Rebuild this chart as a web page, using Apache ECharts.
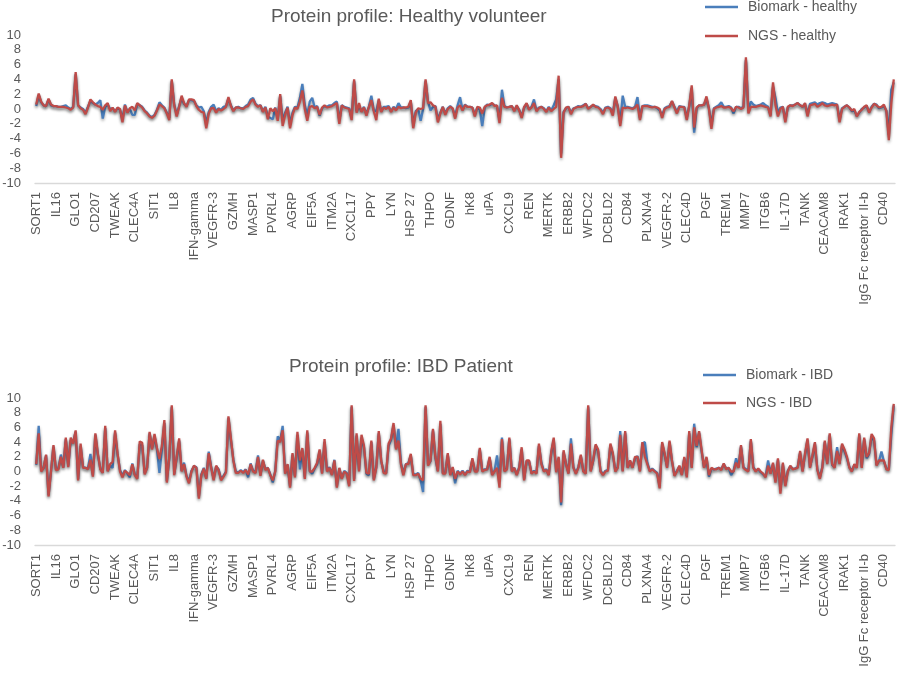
<!DOCTYPE html>
<html>
<head>
<meta charset="utf-8">
<script src="https://cdn.jsdelivr.net/npm/echarts@6/dist/echarts.min.js"></script>
<style>
html,body{margin:0;padding:0;background:#fff;}
#chart{width:898px;height:674px;}
</style>
</head>
<body>
<div id="chart"></div>
<script>
// Tick labels shown on the category axis (every 8th protein)
const tickLabels = ['SORT1','IL16','GLO1','CD207','TWEAK','CLEC4A','SIT1','IL8','IFN-gamma','VEGFR-3','GZMH','MASP1','PVRL4','AGRP','EIF5A','ITM2A','CXCL17','PPY','LYN','HSP 27','THPO','GDNF','hK8','uPA','CXCL9','REN','MERTK','ERBB2','WFDC2','DCBLD2','CD84','PLXNA4','VEGFR-2','CLEC4D','PGF','TREM1','MMP7','ITGB6','IL-17D','TANK','CEACAM8','IRAK1','IgG Fc receptor II-b','CD40'];
const labelStep = 8;

const yTicks = [-10, -8, -6, -4, -2, 0, 2, 4, 6, 8, 10];

// Healthy volunteer
const biomarkHealthy = [
0.4,1.9,0.9,0.5,0.4,1.3,0.5,0.4,
0.4,0.3,0.3,0.4,0.5,0.2,0.0,0.3,
4.7,0.5,0.2,0.0,-0.5,0.3,1.1,0.8,
0.6,0.8,1.2,-1.3,0.3,0.6,0.0,0.1,
-0.3,0.1,-0.1,-1.4,0.6,-0.4,0.0,-0.8,
-0.8,0.7,0.5,0.3,-0.2,-0.5,-0.9,-1.1,
-0.8,-0.1,0.9,0.5,0.2,-0.5,-1.2,3.8,
0.6,-0.8,0.4,1.5,0.7,0.4,1.2,1.2,
1.1,0.5,0.2,0.3,-0.3,-1.9,-0.4,0.3,
0.6,-0.3,0.1,-0.1,0.3,0.4,1.4,0.5,
-0.2,0.2,0.3,0.1,0.1,0.4,0.6,1.3,
1.5,0.7,0.4,0.5,-0.3,0.3,-1.0,-1.2,
-1.4,0.2,-1.3,1.8,-1.6,-0.5,0.3,-2.0,
-0.5,0.3,0.2,1.5,3.4,0.5,-0.8,1.0,
1.5,0.2,0.4,-0.9,0.1,0.4,0.3,0.5,
0.5,0.8,1.0,-1.6,0.5,0.3,0.2,0.1,
-1.2,3.8,-0.3,0.4,-0.3,0.3,-0.7,0.3,
1.8,-0.2,-0.3,1.2,-0.3,0.3,0.3,0.4,
-0.3,0.3,0.0,0.8,0.2,0.2,0.1,0.2,
1.0,-2.2,-0.3,0.0,-1.6,0.0,3.8,1.0,
-0.2,0.3,0.4,-1.4,-0.5,0.3,-0.6,0.1,
0.4,0.0,-1.0,0.5,1.6,-0.1,0.6,0.3,
0.3,0.2,-0.8,0.2,-0.1,-2.3,0.2,0.6,
0.5,0.7,0.5,0.4,-1.5,2.6,0.4,0.2,
0.3,0.4,-0.2,0.4,-0.1,-1.0,0.2,0.7,
0.0,0.3,1.3,-0.2,0.2,0.3,0.1,-0.3,
0.3,-0.2,0.5,1.3,4.0,-6.0,-0.4,0.1,
0.3,-0.5,0.1,0.2,0.4,0.3,0.5,0.7,
0.1,0.3,0.5,0.4,0.3,0.0,-0.5,0.2,
0.3,0.1,-0.6,1.5,0.4,-1.8,1.8,0.3,
0.3,0.2,0.1,0.3,1.6,-1.2,0.4,0.5,
0.5,0.4,0.3,0.3,0.1,-0.2,-0.9,0.1,
0.3,0.4,1.0,0.3,-0.4,0.4,0.3,0.3,
-1.2,0.4,2.8,-3.2,0.1,0.5,0.5,0.6,
1.4,0.1,-2.2,0.1,0.3,0.5,0.9,0.3,
0.3,0.4,0.2,-0.6,0.3,0.3,0.1,0.3,
6.6,-0.3,1.0,0.6,0.4,0.5,0.6,0.8,
0.5,0.3,-0.8,3.0,1.5,-0.6,0.2,0.3,
-1.5,0.2,0.5,0.5,0.6,0.8,0.5,0.3,
0.7,-0.7,0.7,0.8,0.9,0.6,0.8,0.9,
0.8,0.6,0.7,0.8,0.7,0.6,-1.5,0.1,
0.3,0.5,0.2,-0.3,-0.2,-0.9,-0.5,0.0,
0.2,0.4,-0.4,0.3,0.7,0.6,0.1,0.2,
0.4,-0.2,-3.5,2.6,3.6
];
const ngsHealthy = [
0.6,2.1,1.0,0.5,0.4,1.4,0.6,0.4,
0.4,0.3,0.3,0.3,0.2,0.1,-0.1,0.2,
5.0,0.5,0.1,-0.1,-0.7,0.2,1.3,0.9,
0.6,0.4,0.3,-0.1,0.5,0.8,-0.3,0.2,
-0.4,0.2,0.0,-1.8,0.5,-0.5,0.1,0.3,
-0.2,0.8,0.5,0.2,-0.3,-0.6,-1.0,-1.2,
-0.9,-0.2,0.6,0.4,0.1,-0.6,-1.5,4.0,
0.5,-1.0,0.3,1.8,0.8,0.3,1.3,1.3,
1.2,0.4,-0.1,-0.4,-0.5,-2.6,-0.6,0.1,
0.1,-0.5,0.0,-0.2,0.0,0.3,1.6,0.4,
-0.3,0.2,0.2,0.1,0.0,0.3,0.4,1.0,
1.3,0.6,0.3,0.5,-0.4,0.2,-1.4,0.1,
-0.3,0.1,-1.6,2.0,-2.3,-0.8,0.2,-2.6,
-0.8,0.2,0.0,1.0,2.5,0.0,-1.6,0.3,
0.4,0.1,0.3,-0.8,0.2,0.5,0.2,0.3,
0.4,0.6,0.8,-2.0,0.5,0.2,0.1,0.0,
-1.5,4.0,-0.5,0.8,-0.4,0.2,-0.9,0.3,
1.2,-0.3,-1.5,1.4,-0.4,0.2,0.0,0.3,
-0.4,0.2,-0.2,0.3,0.1,0.2,0.2,0.3,
1.2,-2.6,-0.5,0.1,0.0,0.1,4.0,0.8,
0.9,0.5,0.3,-1.8,-0.6,0.3,-0.8,0.0,
0.3,0.1,-1.3,0.2,0.5,-0.2,0.5,0.3,
0.3,0.2,-1.0,0.3,0.2,-0.6,0.3,0.5,
0.6,0.8,0.4,0.5,-1.9,1.5,0.3,0.2,
0.3,0.4,-0.3,0.5,-0.2,-1.2,0.3,0.8,
-0.1,0.2,0.8,-0.3,0.1,0.3,0.0,-0.4,
0.2,-0.3,0.0,0.3,4.5,-6.6,-0.5,0.2,
0.3,-0.7,0.0,0.2,0.3,0.3,0.4,0.7,
0.0,0.3,0.6,0.3,0.2,-0.1,-0.7,0.1,
0.2,0.0,-0.9,1.7,0.3,-2.3,0.2,0.1,
0.2,0.1,0.0,0.2,0.6,-1.5,0.4,0.4,
0.4,0.3,0.2,0.3,0.2,0.0,-1.2,0.0,
0.2,0.3,1.1,0.2,-0.6,0.3,0.3,0.2,
-1.5,0.5,3.2,-2.5,0.2,0.5,0.5,0.6,
1.7,0.0,-2.7,0.0,0.2,0.3,0.4,0.2,
0.2,0.3,0.1,-0.3,0.3,0.2,0.0,0.2,
7.0,-0.6,0.3,0.3,0.3,0.4,0.5,0.4,
0.3,0.2,-1.0,3.6,0.5,-1.0,0.0,0.3,
-1.8,0.3,0.5,0.4,0.6,0.8,0.5,0.3,
0.8,-1.0,0.5,0.6,0.7,0.3,0.5,0.8,
0.5,0.4,0.5,0.6,0.5,0.6,-1.8,0.0,
0.3,0.5,0.2,-0.2,0.0,-1.0,-0.4,-0.1,
0.3,0.5,-0.5,0.2,0.7,0.5,0.2,0.3,
0.6,-0.3,-4.2,0.8,4.0
];

// IBD patient
const biomarkIBD = [
0.9,6.2,0.1,0.5,2.2,-3.2,0.1,3.4,
0.3,0.4,2.3,0.6,4.4,0.8,4.3,4.0,
5.4,-1.0,3.5,0.6,0.5,0.4,2.4,-0.5,
5.0,2.3,0.4,-0.1,5.9,0.1,0.8,0.5,
5.3,2.3,0.2,-0.6,0.2,-0.3,-0.8,1.1,
-0.4,-0.9,3.7,3.6,-0.2,0.5,5.2,3.2,
4.8,3.0,-0.2,3.0,6.6,-1.3,1.8,8.8,
-0.3,1.8,4.2,0.1,1.2,-0.6,-1.4,0.1,
0.7,0.6,-3.4,-0.4,0.5,-0.9,2.7,0.6,
-1.0,0.7,0.3,-1.0,-0.6,0.0,7.3,4.3,
1.6,0.0,-0.1,0.2,-0.1,0.3,-0.8,1.1,
0.1,-0.1,2.2,-0.4,1.5,0.3,0.5,-0.4,
-1.5,0.1,4.8,4.2,6.2,-0.2,0.9,-2.0,
2.3,-0.6,5.0,0.3,3.0,-0.8,5.3,0.1,
-0.3,0.4,1.0,2.8,-0.2,4.0,0.1,0.6,
-0.4,1.6,-2.0,0.4,-0.9,0.1,-0.2,-1.8,
8.8,-1.0,4.9,0.2,4.6,3.3,-0.3,-0.5,
4.0,-1.0,0.6,5.2,1.4,0.0,-0.2,3.5,
4.3,6.3,3.2,5.8,1.2,-0.3,1.0,1.1,
2.2,-0.4,-0.4,-0.2,-1.2,-2.8,8.8,1.0,
1.4,5.6,1.8,0.1,6.5,-0.2,-0.2,2.3,
-0.4,0.5,-1.6,0.1,-0.3,0.1,-0.4,0.1,
0.0,1.6,0.1,0.1,3.0,0.1,0.3,0.3,
1.8,-0.4,0.1,2.2,-1.0,4.6,0.1,0.4,
4.4,0.1,0.5,-0.4,0.6,3.0,-1.0,1.4,
1.4,-0.2,0.1,-0.2,3.5,1.2,0.1,0.3,
-0.4,2.5,4.3,0.0,1.8,-4.6,2.6,1.1,
-0.2,4.5,0.6,-0.2,0.6,2.1,0.1,-0.2,
8.8,0.1,1.4,3.5,2.8,0.1,-0.4,0.1,
0.2,3.6,2.3,0.1,0.6,5.5,0.1,5.3,
0.6,1.4,0.6,1.8,2.1,0.1,3.8,4.0,
1.2,0.1,0.4,0.1,-0.2,-2.0,3.8,2.3,
0.6,4.0,1.4,-0.5,0.1,0.7,-0.4,1.8,
-0.6,5.2,0.6,6.5,3.3,5.3,2.8,0.6,
1.8,-0.7,0.4,0.3,0.4,0.5,0.3,1.0,
0.4,0.5,-0.5,0.1,1.8,0.6,3.4,0.6,
0.3,0.1,4.2,0.6,0.1,0.3,-0.1,-0.4,
-0.7,1.5,-0.2,1.0,-1.3,1.6,-2.6,1.0,
-1.8,0.1,0.7,0.4,0.4,0.6,2.6,0.1,
2.3,4.3,0.6,2.0,3.8,0.3,-0.8,0.6,
4.0,1.1,5.0,0.9,0.6,3.3,1.1,3.6,
2.8,1.8,0.6,0.1,0.9,0.6,5.0,0.6,
4.4,1.8,2.4,4.8,4.2,0.9,1.4,2.7,
1.4,0.4,0.3,5.0,9.0
];
const ngsIBD = [
1.0,5.2,0.0,0.5,2.3,-3.4,0.0,3.6,
0.2,0.3,2.0,0.5,4.6,0.6,4.6,3.8,
5.6,-1.2,3.8,0.5,0.5,0.3,1.6,-0.7,
5.2,2.5,0.3,-0.2,6.2,0.0,1.0,1.3,
5.6,2.5,0.0,-0.8,0.1,-0.2,-0.5,1.0,
-0.5,-1.0,4.1,3.9,-0.4,0.5,5.4,3.0,
5.1,3.2,1.7,3.5,7.0,-1.5,2.0,9.0,
-0.5,2.0,4.5,0.0,1.0,-0.7,-1.6,0.0,
0.8,0.5,-3.7,-0.5,0.4,-1.0,2.5,0.5,
-1.2,0.8,0.2,-1.2,-0.7,-0.1,7.5,4.5,
1.5,-0.2,-0.2,0.1,-0.2,0.2,-0.4,1.0,
0.0,-0.2,2.0,-0.6,1.6,0.2,0.5,-0.5,
-1.2,0.0,4.2,4.0,5.6,-0.3,1.0,-2.2,
2.5,-0.8,5.4,1.5,3.2,-1.0,5.6,0.0,
0.0,0.5,1.2,3.0,-0.3,4.4,0.0,0.5,
-0.5,1.5,-2.2,0.5,-1.0,0.0,-0.3,-2.0,
9.0,-1.3,5.2,0.0,5.0,3.5,-0.2,-0.3,
4.2,-1.2,0.5,5.5,1.5,-0.2,-0.3,3.8,
4.5,6.6,3.0,4.2,1.0,-0.5,1.0,1.0,
2.4,-0.5,-0.5,-0.3,-1.0,-1.2,9.0,0.8,
1.5,5.8,2.0,0.0,6.9,-0.3,-0.3,2.5,
-0.5,0.6,-1.0,0.0,-0.4,0.0,-0.5,0.0,
-0.1,1.8,0.0,0.0,3.2,0.0,0.2,0.3,
2.0,-0.5,0.0,0.5,-2.2,4.4,0.0,0.3,
4.6,0.0,0.5,-0.5,0.5,3.3,-1.2,1.5,
1.5,-0.3,0.0,-0.3,3.8,1.0,0.0,0.2,
-0.5,2.7,4.6,-0.1,2.0,-4.2,2.9,1.0,
-0.3,3.8,0.5,-0.3,0.5,2.3,0.0,-0.3,
9.0,0.0,1.5,3.7,3.0,0.0,-0.5,0.0,
0.1,3.8,2.5,0.0,0.5,5.0,0.0,5.5,
0.5,1.5,0.5,2.0,2.0,0.0,4.0,2.0,
1.0,0.0,0.3,0.0,-0.3,-2.3,4.0,2.5,
0.5,4.2,1.5,-0.6,0.0,0.8,-0.5,2.0,
-0.8,5.5,0.5,6.0,3.5,5.5,3.0,0.5,
2.0,-0.5,0.5,0.3,0.3,0.5,0.2,1.1,
0.3,0.5,0.0,0.0,1.2,0.5,3.6,0.5,
0.2,0.0,4.4,0.5,0.0,0.4,0.0,-0.3,
-0.8,0.8,-0.3,1.2,-1.5,1.8,-3.0,1.2,
-2.0,0.0,0.8,0.3,0.4,0.5,2.8,0.0,
2.5,4.5,0.5,2.2,4.0,0.2,-1.0,0.5,
4.2,1.0,5.2,1.0,0.5,2.8,1.0,3.8,
3.0,2.0,0.5,0.0,1.0,0.5,5.2,0.5,
4.6,2.0,2.5,5.1,4.5,0.8,1.5,1.5,
1.5,0.3,0.2,6.0,9.2
];

// category axis: one entry per protein; every 8th carries a visible name
const categories = ngsHealthy.map((v, i) => (i % labelStep === 0 && tickLabels[i / labelStep]) ? tickLabels[i / labelStep] : ('p' + i));

const FONT = "'Liberation Sans', Arial, sans-serif";
const GREY = '#595959';
const BLUE = '#4a7ebb';
const RED = '#be4b48';
const LEGEND_LINE = 'path://M0,0L33,0L33,2.5L0,2.5Z';

function xAxisFor(gi) {
  return {
    type: 'category', gridIndex: gi, data: categories, boundaryGap: true,
    axisLine: { onZero: false, lineStyle: { color: '#d9d9d9', width: 1.3 } },
    axisTick: { show: false },
    splitLine: { show: false },
    axisLabel: { interval: labelStep - 1, rotate: 90, margin: 9, fontSize: 13, color: GREY, fontFamily: FONT }
  };
}
function yAxisFor(gi) {
  return {
    type: 'value', gridIndex: gi, min: yTicks[0], max: yTicks[yTicks.length - 1], interval: 2,
    axisLine: { show: false }, axisTick: { show: false }, splitLine: { show: false },
    axisLabel: { margin: 14, fontSize: 13, color: GREY, fontFamily: FONT }
  };
}
function lineSeries(name, data, color, gi, z) {
  return {
    name, type: 'line', xAxisIndex: gi, yAxisIndex: gi, data,
    symbol: 'none', showSymbol: false, smooth: false, z,
    lineStyle: { color, width: 2.3, shadowColor: 'rgba(0,0,0,0.35)', shadowBlur: 3, shadowOffsetY: 2 },
    itemStyle: { color },
    animation: false
  };
}

const chart = echarts.init(document.getElementById('chart'), null, { renderer: 'canvas' });
chart.setOption({
  backgroundColor: '#ffffff',
  animation: false,
  title: [
    { text: 'Protein profile: Healthy volunteer', left: 266, top: 2, textStyle: { fontSize: 19, fontWeight: 'normal', color: GREY, fontFamily: FONT } },
    { text: 'Protein profile: IBD Patient', left: 284, top: 352, textStyle: { fontSize: 19, fontWeight: 'normal', color: GREY, fontFamily: FONT } }
  ],
  legend: [
    { data: ['Biomark - healthy', 'NGS - healthy'], orient: 'vertical', left: 700, top: -5, itemWidth: 33, itemHeight: 14, itemGap: 15,
      icon: LEGEND_LINE, symbolKeepAspect: true,
      textStyle: { fontSize: 14, color: GREY, fontFamily: FONT, padding: [0, 0, 0, 5] } },
    { data: ['Biomark - IBD', 'NGS - IBD'], orient: 'vertical', left: 698, top: 363, itemWidth: 33, itemHeight: 14, itemGap: 14,
      icon: LEGEND_LINE, symbolKeepAspect: true,
      textStyle: { fontSize: 14, color: GREY, fontFamily: FONT, padding: [0, 0, 0, 5] } }
  ],
  grid: [
    { left: 35, right: 3, top: 35, height: 148, containLabel: false, outerBoundsMode: 'none' },
    { left: 35, right: 3, top: 398, height: 147, containLabel: false, outerBoundsMode: 'none' }
  ],
  xAxis: [xAxisFor(0), xAxisFor(1)],
  yAxis: [yAxisFor(0), yAxisFor(1)],
  series: [
    lineSeries('Biomark - healthy', biomarkHealthy, BLUE, 0, 2),
    lineSeries('NGS - healthy', ngsHealthy, RED, 0, 3),
    lineSeries('Biomark - IBD', biomarkIBD, BLUE, 1, 2),
    lineSeries('NGS - IBD', ngsIBD, RED, 1, 3)
  ]
});
</script>
</body>
</html>
